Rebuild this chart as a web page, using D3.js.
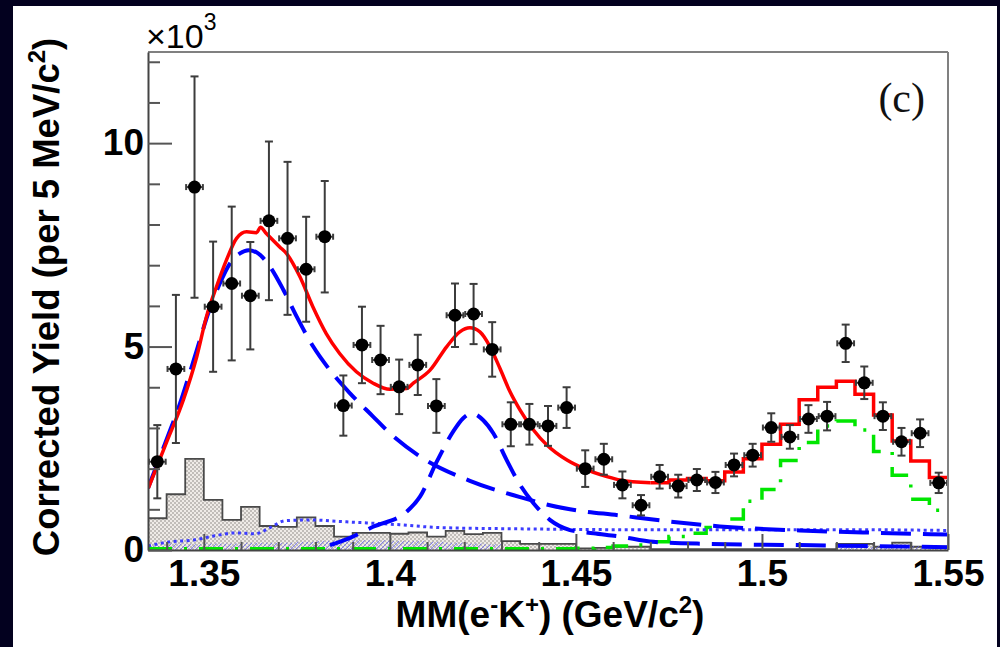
<!DOCTYPE html>
<html>
<head>
<meta charset="utf-8">
<script src="https://cdn.jsdelivr.net/npm/d3@7"></script>
<style>
  html, body { margin: 0; padding: 0; background: #03011f; }
  svg { display: block; }
</style>
</head>
<body>
<svg id="chart" width="1000" height="647"></svg>
<script>
// ---- histogram binning: 5 MeV bins, centres in GeV/c^2 ----
const massCenters = [1.3375, 1.3425, 1.3475, 1.3525, 1.3575, 1.3625, 1.3675, 1.3725, 1.3775, 1.3825,
  1.3875, 1.3925, 1.3975, 1.4025, 1.4075, 1.4125, 1.4175, 1.4225, 1.4275, 1.4325,
  1.4375, 1.4425, 1.4475, 1.4525, 1.4575, 1.4625, 1.4675, 1.4725, 1.4775, 1.4825,
  1.4875, 1.4925, 1.4975, 1.5025, 1.5075, 1.5125, 1.5175, 1.5225, 1.5275, 1.5325,
  1.5375, 1.5425, 1.5475];
const binWidth = 0.005;

// ---- corrected yield (x10^3) and its uncertainty ----
const yieldValues = [2.17, 4.45, 8.92, 5.98, 6.55, 6.25, 8.09, 7.66, 6.90, 7.70,
  3.55, 5.04, 4.67, 4.01, 4.55, 3.54, 5.77, 5.80, 4.93, 3.09,
  3.09, 3.05, 3.50, 2.00, 2.23, 1.60, 1.10, 1.80, 1.57, 1.72,
  1.66, 2.09, 2.33, 3.01, 2.78, 3.22, 3.29, 5.08, 4.11, 3.29,
  2.66, 2.87, 1.65];
const yieldErrors = [0.90, 1.82, 2.72, 1.60, 1.89, 1.32, 1.95, 1.88, 1.29, 1.37,
  0.74, 0.94, 0.84, 0.67, 0.74, 0.66, 0.78, 0.74, 0.67, 0.54,
  0.50, 0.49, 0.50, 0.45, 0.38, 0.33, 0.25, 0.29, 0.28, 0.27,
  0.26, 0.28, 0.28, 0.35, 0.29, 0.34, 0.35, 0.46, 0.40, 0.34,
  0.34, 0.34, 0.25];

// ---- background histogram (stippled grey) ----
const bkgHist = [0.78, 1.37, 2.24, 1.23, 0.74, 1.06, 0.59, 0.57, 0.80, 0.59,
  0.33, 0.42, 0.42, 0.40, 0.43, 0.33, 0.47, 0.39, 0.42, 0.22,
  0.15, 0.15, 0.15, 0.04, 0.05, 0.08, 0.08, 0.02, 0.02, 0.02,
  0.02, 0.02, 0.02, 0.02, 0.02, 0.02, 0.02, 0.15, 0.15, 0.08,
  0.18, 0.08, 0.08];

// ---- small hatched contribution (blue) ----
const hatchHist = [0.10, 0.16, 0.14, 0.16, 0.16, 0.18, 0.18, 0.18, 0.20, 0.22,
  0.24, 0.24, 0.24, 0.22, 0.22, 0.20, 0.18, 0.16, 0.14, 0,
  0, 0, 0, 0, 0, 0, 0, 0, 0, 0,
  0, 0, 0, 0, 0, 0, 0, 0.10, 0.10, 0.10,
  0.10, 0.10, 0.10];

// ---- Lambda(1520) template (green dash-dot histogram) ----
const lambda1520Hist = [0.03, 0.03, 0.03, 0.03, 0.03, 0.03, 0.03, 0.03, 0.03, 0.03,
  0.03, 0.03, 0.03, 0.03, 0.03, 0.03, 0.03, 0.03, 0.03, 0.03,
  0.03, 0.03, 0.03, 0.04, 0.06, 0.10, 0.12, 0.20, 0.33, 0.41,
  0.55, 0.76, 1.20, 1.49, 2.20, 2.64, 3.05, 3.17, 2.95, 2.42,
  1.84, 1.25, 0.98];

// ---- total fit: smooth part, then binned part ----
const fitSmoothMass = [1.3351, 1.3400, 1.3445, 1.3481, 1.3507, 1.3534, 1.3561, 1.3588, 1.3615, 1.3642,
  1.3652, 1.3668, 1.3704, 1.3722, 1.3758, 1.3793, 1.3829, 1.3865, 1.3910, 1.3955,
  1.4000, 1.4045, 1.4063, 1.4108, 1.4153, 1.4188, 1.4215, 1.4242, 1.4269, 1.4296,
  1.4323, 1.4350, 1.4386, 1.4422, 1.4476, 1.4530, 1.4601, 1.4618, 1.4700];
const fitSmoothYield = [1.52, 2.65, 3.69, 4.75, 5.73, 6.47, 7.13, 7.66, 7.82, 7.80,
  7.93, 7.78, 7.45, 7.29, 6.72, 5.98, 5.32, 4.83, 4.38, 4.10,
  3.95, 3.97, 4.10, 4.42, 5.00, 5.36, 5.46, 5.36, 5.00, 4.46,
  3.89, 3.44, 2.95, 2.58, 2.21, 1.97, 1.76, 1.72, 1.65];
const fitStepFirstBin = 27;
const fitStepYield = [1.65, 1.72, 1.76, 1.70, 1.92, 2.24, 2.60, 3.09, 3.69, 4.00,
  4.15, 3.83, 3.32, 2.68, 2.19, 1.78];

// ---- Sigma(1385) line shape (blue long dash) ----
const sigmaMass = [1.3350, 1.3396, 1.3436, 1.3481, 1.3512, 1.3543, 1.3570, 1.3597, 1.3620, 1.3646,
  1.3678, 1.3714, 1.3750, 1.3794, 1.3839, 1.3893, 1.3955, 1.4000, 1.4081, 1.4215,
  1.4350, 1.4430, 1.4484, 1.4618, 1.4753, 1.4887, 1.5102, 1.5317, 1.5500];
const sigmaYield = [1.52, 2.62, 3.60, 4.91, 5.82, 6.55, 7.04, 7.29, 7.37, 7.29,
  6.96, 6.39, 5.73, 5.00, 4.42, 3.85, 3.28, 2.87, 2.30, 1.70,
  1.30, 1.10, 1.00, 0.85, 0.70, 0.58, 0.48, 0.42, 0.38];

// ---- Lambda(1405) line shape (blue long dash) ----
const lambda1405Mass = [1.3839, 1.3893, 1.3955, 1.4045, 1.4081, 1.4126, 1.4170, 1.4197, 1.4220, 1.4251,
  1.4278, 1.4314, 1.4350, 1.4386, 1.4430, 1.4484, 1.4547, 1.4618, 1.4708, 1.4860,
  1.5102, 1.5500];
const lambda1405Yield = [0.12, 0.30, 0.57, 0.94, 1.31, 2.17, 2.91, 3.24, 3.36, 3.19,
  2.87, 2.21, 1.60, 1.15, 0.74, 0.49, 0.41, 0.33, 0.20, 0.15,
  0.12, 0.07];

// ---- smooth background (blue dotted) ----
const bkgCurveMass = [1.3350, 1.3409, 1.3476, 1.3530, 1.3584, 1.3638, 1.3678, 1.3718, 1.3785, 1.3866,
  1.4027, 1.4135, 1.4350, 1.4618, 1.4968, 1.5237, 1.5500];
const bkgCurveYield = [0.10, 0.20, 0.25, 0.35, 0.42, 0.40, 0.55, 0.72, 0.74, 0.70,
  0.62, 0.55, 0.52, 0.50, 0.50, 0.50, 0.48];

// ---- axis ticks ----
const xMajorTicks = [1.35, 1.40, 1.45, 1.50, 1.55];
const xMinorTicks = [1.34, 1.36, 1.37, 1.38, 1.39, 1.41, 1.42, 1.43, 1.44, 1.46, 1.47, 1.48, 1.49, 1.51, 1.52, 1.53, 1.54];
const yMajorTicks = [0, 5, 10];
const yMinorTicks = [1, 2, 3, 4, 6, 7, 8, 9, 11, 12];

// ---------------------------------------------------------------
const svg = d3.select("#chart");
const W = 1000, H = 647;
const plot = { left: 148, right: 948, top: 52, bottom: 550 };

svg.append("rect").attr("width", W).attr("height", H).attr("fill", "#03011f");
svg.append("rect").attr("x", 13).attr("y", 6).attr("width", 984).attr("height", H - 6).attr("fill", "#ffffff");

const x = d3.scaleLinear().domain([1.335, 1.55]).range([plot.left, plot.right]);
const y = d3.scaleLinear().domain([0, 12.24]).range([plot.bottom, plot.top]);

// patterns
const defs = svg.append("defs");
const stip = defs.append("pattern").attr("id", "stipple")
  .attr("patternUnits", "userSpaceOnUse").attr("width", 4).attr("height", 4);
stip.append("rect").attr("width", 4).attr("height", 4).attr("fill", "#efebe7");
stip.append("circle").attr("cx", 1).attr("cy", 1).attr("r", 1).attr("fill", "#b2aeaa");
stip.append("circle").attr("cx", 3).attr("cy", 3).attr("r", 1).attr("fill", "#b2aeaa");
const hatch = defs.append("pattern").attr("id", "bluehatch")
  .attr("patternUnits", "userSpaceOnUse").attr("width", 5).attr("height", 5);
hatch.append("path").attr("d", "M0,5 L5,0").attr("stroke", "#5a5aff").attr("stroke-width", 1)
  .attr("stroke-opacity", 0.7);

defs.append("clipPath").attr("id", "plotclip").append("rect")
  .attr("x", plot.left).attr("y", plot.top)
  .attr("width", plot.right - plot.left).attr("height", plot.bottom - plot.top);

const g = svg.append("g").attr("clip-path", "url(#plotclip)");

// step points for a binned histogram
function stepPoints(values, firstBin = 0) {
  const pts = values.map((v, i) => [massCenters[firstBin + i] - binWidth / 2, v]);
  pts.push([massCenters[firstBin + values.length - 1] + binWidth / 2, values[values.length - 1]]);
  return pts;
}

const stepArea = d3.area().curve(d3.curveStepAfter)
  .x(d => x(d[0])).y0(y(0)).y1(d => y(d[1]));
const stepLine = d3.line().curve(d3.curveStepAfter)
  .x(d => x(d[0])).y(d => y(d[1]));
const smoothLine = d3.line().curve(d3.curveMonotoneX)
  .x(d => x(d[0])).y(d => y(d[1]));

// background histogram
g.append("path").attr("d", stepArea(stepPoints(bkgHist)))
  .attr("fill", "url(#stipple)").attr("stroke", "none");
g.append("path").attr("d", stepLine(stepPoints(bkgHist)))
  .attr("fill", "none").attr("stroke", "#4a4a4a").attr("stroke-width", 1.8);

// hatched contribution
g.append("path").attr("d", stepArea(stepPoints(hatchHist)))
  .attr("fill", "url(#bluehatch)").attr("stroke", "none");

// Lambda(1520) template
g.append("path").attr("d", stepLine(stepPoints(lambda1520Hist)))
  .attr("fill", "none").attr("stroke", "#00e600").attr("stroke-width", 3.5)
  .attr("stroke-dasharray", "24,12,3,12");

// smooth background
g.append("path").attr("d", smoothLine(d3.zip(bkgCurveMass, bkgCurveYield)))
  .attr("fill", "none").attr("stroke", "#3c3cff").attr("stroke-width", 3)
  .attr("stroke-dasharray", "3,3.5");

// Sigma(1385) and Lambda(1405)
g.append("path").attr("d", smoothLine(d3.zip(sigmaMass, sigmaYield)))
  .attr("fill", "none").attr("stroke", "#0000ff").attr("stroke-width", 4)
  .attr("stroke-dasharray", "30,12");
g.append("path").attr("d", smoothLine(d3.zip(lambda1405Mass, lambda1405Yield)))
  .attr("fill", "none").attr("stroke", "#0000ff").attr("stroke-width", 4)
  .attr("stroke-dasharray", "30,12");

// total fit
g.append("path").attr("d", smoothLine(d3.zip(fitSmoothMass, fitSmoothYield)))
  .attr("fill", "none").attr("stroke", "#ff0000").attr("stroke-width", 3.5);
g.append("path").attr("d", stepLine(stepPoints(fitStepYield, fitStepFirstBin)))
  .attr("fill", "none").attr("stroke", "#ff0000").attr("stroke-width", 3.5);

// data points with error bars
const xErrHalf = binWidth * 0.45;
const pts = svg.append("g");
massCenters.forEach((m, i) => {
  const v = yieldValues[i], e = yieldErrors[i];
  const cx = x(m), cy = y(v);
  const gp = pts.append("g").attr("stroke", "#3c3c3c").attr("stroke-width", 2);
  gp.append("line").attr("x1", cx).attr("x2", cx).attr("y1", y(v - e)).attr("y2", y(v + e));
  gp.append("line").attr("x1", cx - 4).attr("x2", cx + 4).attr("y1", y(v - e)).attr("y2", y(v - e));
  gp.append("line").attr("x1", cx - 4).attr("x2", cx + 4).attr("y1", y(v + e)).attr("y2", y(v + e));
  gp.append("line").attr("x1", x(m - xErrHalf)).attr("x2", x(m + xErrHalf)).attr("y1", cy).attr("y2", cy);
  gp.append("line").attr("x1", x(m - xErrHalf)).attr("x2", x(m - xErrHalf)).attr("y1", cy - 3).attr("y2", cy + 3);
  gp.append("line").attr("x1", x(m + xErrHalf)).attr("x2", x(m + xErrHalf)).attr("y1", cy - 3).attr("y2", cy + 3);
  pts.append("circle").attr("cx", cx).attr("cy", cy).attr("r", 6.5).attr("fill", "#000");
});

// frame (top and right)
svg.append("line").attr("x1", plot.left).attr("x2", plot.right).attr("y1", plot.top).attr("y2", plot.top)
  .attr("stroke", "#808080").attr("stroke-width", 2);
svg.append("line").attr("x1", plot.right).attr("x2", plot.right).attr("y1", plot.top).attr("y2", plot.bottom)
  .attr("stroke", "#808080").attr("stroke-width", 2);

// axes
const fmtX = d => (d === 1.4 ? "1.4" : d === 1.5 ? "1.5" : d3.format(".2f")(d));
const xAxis = svg.append("g").attr("transform", `translate(0,${plot.bottom})`)
  .call(d3.axisBottom(x).tickValues(xMajorTicks).tickSizeInner(-16).tickSizeOuter(0)
    .tickPadding(10).tickFormat(fmtX));
svg.append("g").attr("transform", `translate(0,${plot.bottom})`)
  .call(d3.axisBottom(x).tickValues(xMinorTicks).tickSizeInner(-8).tickSizeOuter(0).tickFormat(""))
  .call(a => a.select(".domain").remove());

const yAxis = svg.append("g").attr("transform", `translate(${plot.left},0)`)
  .call(d3.axisLeft(y).tickValues(yMajorTicks).tickSizeInner(-24).tickSizeOuter(0)
    .tickPadding(4).tickFormat(d3.format("d")));
svg.append("g").attr("transform", `translate(${plot.left},0)`)
  .call(d3.axisLeft(y).tickValues(yMinorTicks).tickSizeInner(-12).tickSizeOuter(0).tickFormat(""))
  .call(a => a.select(".domain").remove());

svg.selectAll(".tick line").attr("stroke", "#555").attr("stroke-width", 2);
svg.selectAll(".domain").attr("stroke", "#444").attr("stroke-width", 2);
[xAxis, yAxis].forEach(a => a.selectAll("text")
  .attr("font-family", "'Liberation Sans', Arial, sans-serif")
  .attr("font-weight", "bold").attr("font-size", 37).attr("fill", "#000"));

// axis titles
const sans = "'Liberation Sans', Arial, sans-serif";
const xt = svg.append("text").attr("x", 550).attr("y", 627).attr("text-anchor", "middle")
  .attr("font-family", sans).attr("font-weight", "bold").attr("font-size", 37).attr("fill", "#000");
xt.append("tspan").text("MM(e");
xt.append("tspan").attr("dy", -14).attr("font-size", 24).text("-");
xt.append("tspan").attr("dy", 14).text("K");
xt.append("tspan").attr("dy", -14).attr("font-size", 24).text("+");
xt.append("tspan").attr("dy", 14).text(") (GeV/c");
xt.append("tspan").attr("dy", -14).attr("font-size", 24).text("2");
xt.append("tspan").attr("dy", 14).text(")");

const yt = svg.append("text").attr("transform", "translate(59,297) rotate(-90)")
  .attr("text-anchor", "middle")
  .attr("font-family", sans).attr("font-weight", "bold").attr("font-size", 36.5).attr("fill", "#000");
yt.append("tspan").text("Corrected Yield (per 5 MeV/c");
yt.append("tspan").attr("dy", -14).attr("font-size", 24).text("2");
yt.append("tspan").attr("dy", 14).text(")");

// exponent label
const ex = svg.append("text").attr("x", 146).attr("y", 48)
  .attr("font-family", sans).attr("font-size", 34).attr("fill", "#000");
ex.append("tspan").text("\u00d710");
ex.append("tspan").attr("dy", -18).attr("font-size", 23).text("3");

// panel label
svg.append("text").attr("x", 925).attr("y", 112).attr("text-anchor", "end")
  .attr("font-family", "'Liberation Serif', 'Times New Roman', serif")
  .attr("font-size", 42).attr("fill", "#111").text("(c)");
</script>
</body>
</html>
